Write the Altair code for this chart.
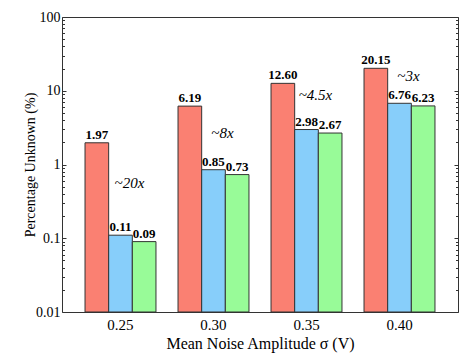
import altair as alt
import pandas as pd

groups = ["0.25", "0.30", "0.35", "0.40"]
series_names = ["A", "B", "C"]
series_colors = ["#fa8072", "#87cefa", "#98fb98"]
vals_a = [1.97, 6.19, 12.60, 20.15]
vals_b = [0.11, 0.85, 2.98, 6.76]
vals_c = [0.09, 0.73, 2.67, 6.23]
ann_text = ["~20x", "~8x", "~4.5x", "~3x"]
ann_y = [0.56, 2.67, 8.75, 15.8]
major_ticks = [0.01, 0.1, 1, 10, 100]
minor_ticks = [m * 10 ** e for e in (-2, -1, 0, 1) for m in range(2, 10)]

rows = []
for s, vals in zip(series_names, [vals_a, vals_b, vals_c]):
    for g, v in zip(groups, vals):
        rows.append({"group": g, "series": s, "value": v, "base": 0.01})
df = pd.DataFrame(rows)
ann = pd.DataFrame({"group": groups, "text": ann_text, "y": ann_y, "series": ["B"] * 4})

FONT = "Liberation Serif, Times New Roman, Times, DejaVu Serif, serif"
yscale = alt.Scale(type="log", domain=[0.01, 100], nice=False)
xscale = alt.Scale(type="band", paddingInner=0.237, paddingOuter=0.2475)
xoff = alt.XOffset("series:N", scale=alt.Scale(domain=series_names, paddingInner=0, paddingOuter=0))

x_axis = alt.Axis(title="Mean Noise Amplitude σ (V)", ticks=False, domain=False, orient="bottom",
                  labelAngle=0, labelPadding=5, titlePadding=3, labelFontSize=15, titleFontSize=16)
x_enc = alt.X("group:N", sort=groups, scale=xscale, axis=x_axis)

bars = alt.Chart(df).mark_bar(stroke="#333", strokeWidth=1).encode(
    x=x_enc,
    xOffset=xoff,
    y=alt.Y("value:Q", scale=yscale,
            axis=alt.Axis(orient="left", values=major_ticks, format="~g", offset=-4, tickSize=4,
                          domain=False, grid=False, labelPadding=2, labelFontSize=14,
                          title="Percentage Unknown (%)", titleFontSize=14, titlePadding=-2)),
    y2="base:Q",
    color=alt.Color("series:N", scale=alt.Scale(domain=series_names, range=series_colors), legend=None),
)

labels = alt.Chart(df).mark_text(font=FONT, fontWeight="bold", fontSize=13, baseline="bottom", dy=-1,
                                 color="black").encode(
    x=x_enc,
    xOffset=xoff,
    y=alt.Y("value:Q", scale=yscale,
            axis=alt.Axis(orient="left", values=minor_ticks, offset=-2.5, tickSize=2.5, labels=False,
                          domain=False, grid=False, title=None)),
    text=alt.Text("value:Q", format=".2f"),
)

notes = alt.Chart(ann).mark_text(font=FONT, fontStyle="italic", fontSize=15, dx=9,
                                 color="black").encode(
    x=x_enc,
    xOffset=xoff,
    y=alt.Y("y:Q", scale=yscale,
            axis=alt.Axis(orient="right", values=major_ticks, offset=-4, tickSize=4, labels=False,
                          domain=False, grid=False, title=None)),
    text="text:N",
)

dummy = alt.Chart(ann).mark_text(text="", opacity=0).encode(
    x=x_enc,
    xOffset=xoff,
    y=alt.Y("y:Q", scale=yscale,
            axis=alt.Axis(orient="right", values=minor_ticks, offset=-2.5, tickSize=2.5, labels=False,
                          domain=False, grid=False, title=None)),
)

chart = alt.layer(bars, labels, notes, dummy).resolve_axis(y="independent").properties(
    width=396, height=295,
    autosize=alt.AutoSizeParams(type="none"),
    padding={"left": 54, "top": 9, "right": 1, "bottom": 44},
    background="white",
).configure_view(stroke="#333", strokeWidth=1).configure_axis(
    labelFont=FONT, titleFont=FONT,
    labelColor="black", titleColor="black", titleFontWeight="normal", tickColor="#333",
)

chart.save("out.html", embed_options={"renderer": "svg", "actions": False})
